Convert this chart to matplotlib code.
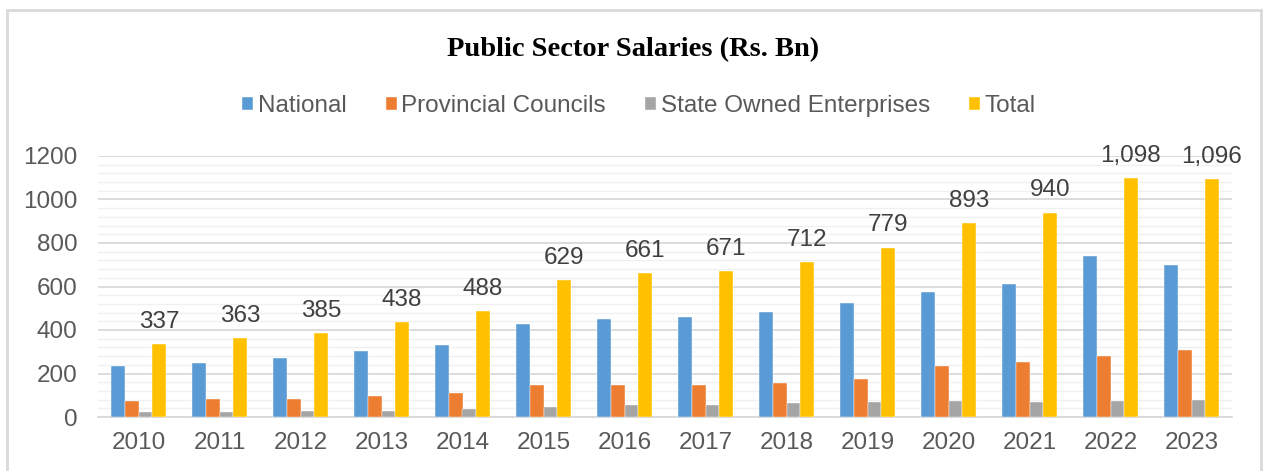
import matplotlib
matplotlib.use("Agg")
import matplotlib.pyplot as plt
import numpy as np
from matplotlib.patches import Rectangle

years = ["2010", "2011", "2012", "2013", "2014", "2015", "2016",
         "2017", "2018", "2019", "2020", "2021", "2022", "2023"]
national = [235, 247, 270, 304, 330, 427, 450, 460, 482, 526, 575, 611, 738, 701]
provincial = [72, 83, 81, 95, 109, 146, 149, 146, 158, 176, 236, 255, 279, 310]
soe = [22, 23, 26, 29, 37, 46, 54, 54, 63, 68, 72, 68, 75, 78]
total = [337, 363, 385, 438, 488, 629, 661, 671, 712, 779, 893, 940, 1098, 1096]
total_labels = ["337", "363", "385", "438", "488", "629", "661", "671", "712",
                "779", "893", "940", "1,098", "1,096"]
series_names = ["National", "Provincial Councils", "State Owned Enterprises", "Total"]
colors = ["#5B9BD5", "#ED7D31", "#A5A5A5", "#FFC000"]

W, H = 1263, 471
fig = plt.figure(figsize=(W / 100, H / 100), dpi=100)
plt.rcParams['font.family'] = ['Liberation Sans', 'DejaVu Sans']
txt = "#595959"

# outer chart border
fig.patches.append(Rectangle((7 / W, -0.05), (1261 - 7) / W, 1.05 - 10 / H,
                             transform=fig.transFigure, fill=False,
                             edgecolor="#d9d9d9", linewidth=2))

ax = fig.add_axes([98 / W, 54 / H, (1232 - 98) / W, (417 - 156) / H])
x = np.arange(len(years))
bw = 0.168
data = [national, provincial, soe, total]
offsets = [-1.5, -0.5, 0.5, 1.5]
for d, c, o, n in zip(data, colors, offsets, series_names):
    ax.bar(x + o * bw, d, width=bw, color=c, edgecolor="white", linewidth=0.3,
           label=n, zorder=3)

for xi, v, lab in zip(x, total, total_labels):
    ax.annotate(lab, (xi + 1.5 * bw, v), xytext=(0, 8), textcoords="offset points",
                ha="center", va="bottom", fontsize=17.5, color="#404040")

ax.set_xlim(-0.5, len(years) - 0.5)
ax.set_ylim(0, 1200)
ax.set_yticks(np.arange(0, 1201, 200))
ax.set_yticks(np.arange(0, 1201, 40), minor=True)
ax.set_xticks(x)
ax.set_xticklabels(years)
ax.tick_params(axis="both", which="both", length=0, labelsize=17.5, labelcolor=txt)
ax.tick_params(axis="x", pad=11)
ax.tick_params(axis="y", pad=15)
ax.grid(axis="y", which="major", color="#d9d9d9", linewidth=1.3, zorder=0)
ax.grid(axis="y", which="minor", color="#f0f0f0", linewidth=1.0, zorder=0)
for s in ["top", "right", "left"]:
    ax.spines[s].set_visible(False)
ax.spines["bottom"].set_color("#d9d9d9")
ax.spines["bottom"].set_linewidth(1.3)

fig.text(633 / W, 1 - 50 / H, "Public Sector Salaries (Rs. Bn)", ha="center", va="center",
         fontsize=20.5, fontweight="bold", family=["Liberation Serif", "DejaVu Serif"],
         color="black")

handles, labels = ax.get_legend_handles_labels()
leg = fig.legend(handles, labels, loc="center", bbox_to_anchor=(639 / W, 1 - 106 / H),
                 ncol=4, frameon=False, fontsize=17.5, handlelength=0.45,
                 handleheight=0.45, handletextpad=0.2, columnspacing=1.6)
for t in leg.get_texts():
    t.set_color(txt)

fig.savefig("out.png", dpi=100)
